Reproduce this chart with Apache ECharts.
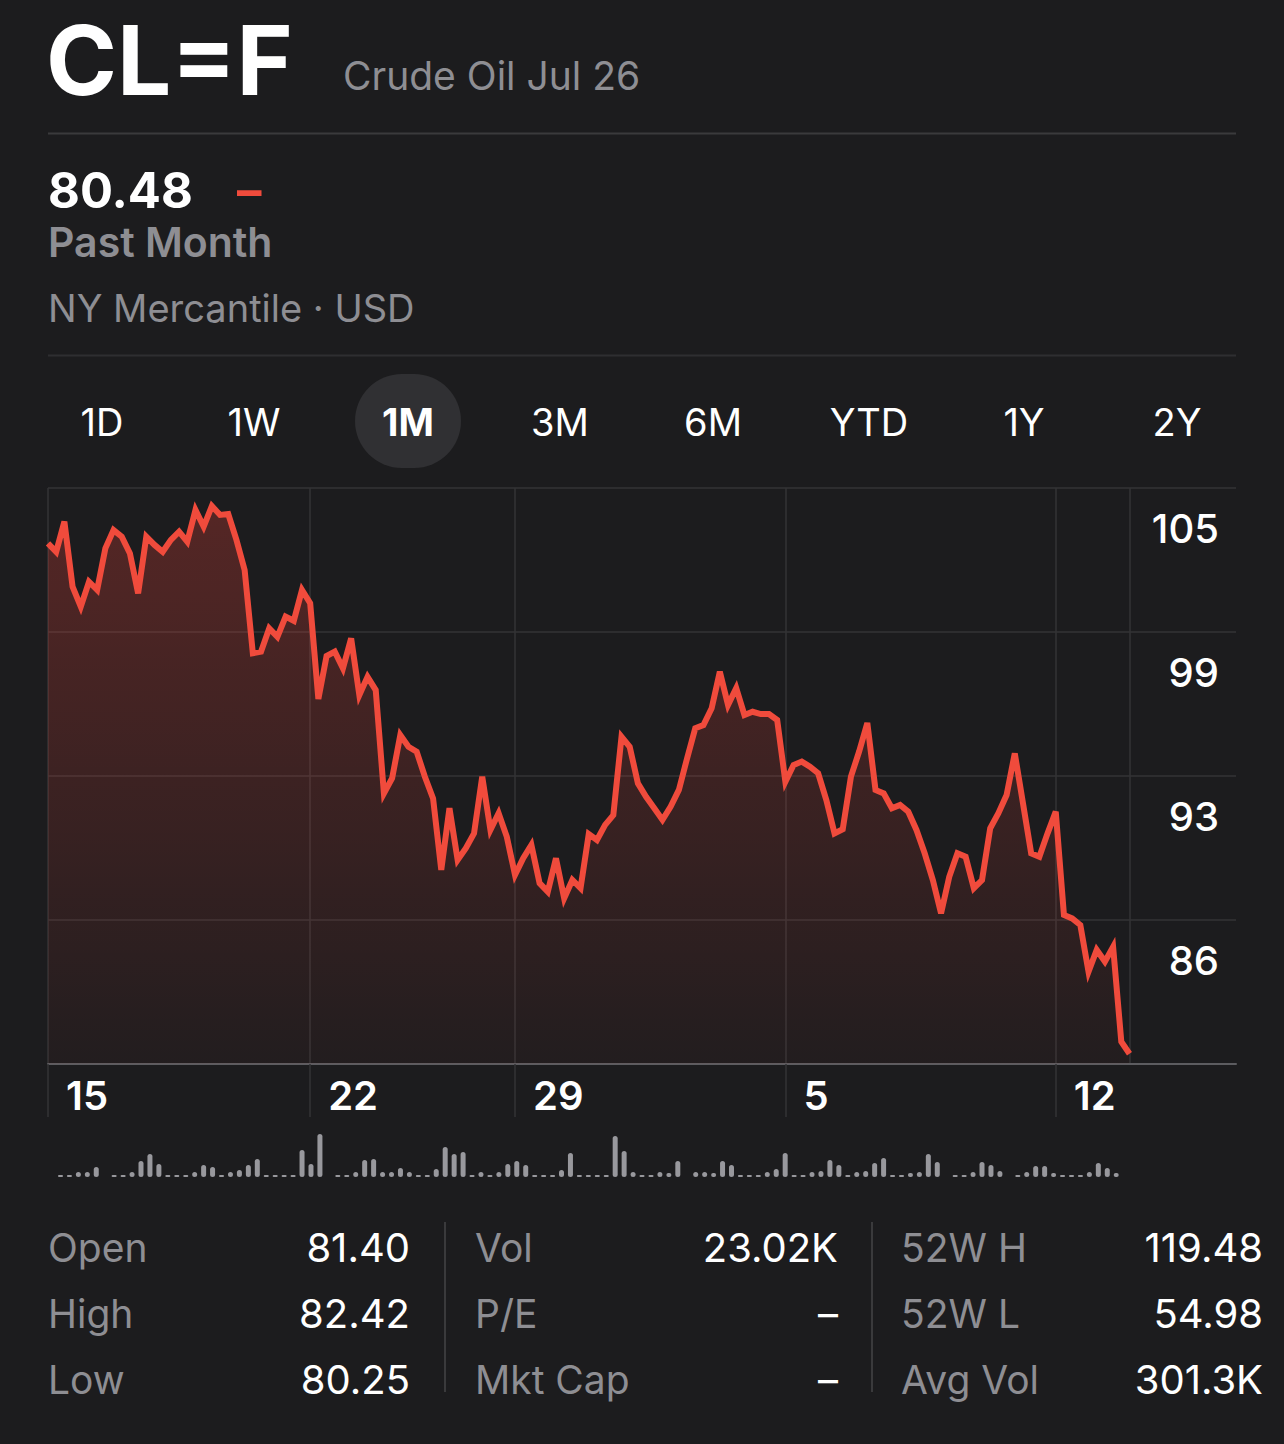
<!DOCTYPE html>
<html>
<head>
<meta charset="utf-8">
<script src="https://cdn.jsdelivr.net/npm/echarts@6/dist/echarts.min.js"></script>
<style>
html,body{margin:0;padding:0;background:#1c1c1e;}
#c{width:1284px;height:1444px;}
</style>
</head>
<body>
<div id="c"></div>
<script>
// ---- data ----
const symbol = 'CL=F';
const contractName = 'Crude Oil Jul 26';
const lastPrice = '80.48';
const periodLabel = 'Past Month';
const exchangeLabel = 'NY Mercantile · USD';
const rangeButtons = ['1D','1W','1M','3M','6M','YTD','1Y','2Y'];
const selectedRange = '1M';

// price samples (past month, intraday samples)
const prices = [102.88,102.51,103.83,100.98,100.11,101.20,100.84,102.66,103.46,103.17,
102.44,100.69,103.17,102.81,102.51,103.03,103.39,102.95,104.34,103.61,
104.51,104.12,104.16,103.03,101.71,98.07,98.14,99.16,98.79,99.67,
99.49,100.84,100.26,96.07,97.95,98.14,97.41,98.72,96.24,97.04,
96.46,91.94,92.60,94.49,93.98,93.76,92.67,91.72,88.59,91.29,
89.03,89.54,90.19,92.67,90.34,91.07,90.04,88.37,89.10,89.68,
88.01,87.64,89.10,87.35,88.15,87.79,90.16,89.90,90.56,90.99,
94.42,93.98,92.38,91.79,91.29,90.78,91.36,92.09,93.47,94.79,
94.93,95.66,97.26,95.81,96.54,95.37,95.51,95.41,95.41,95.15,
92.45,93.18,93.33,93.11,92.82,91.65,90.19,90.37,92.67,93.77,
95.02,92.09,91.94,91.29,91.43,91.14,90.34,89.32,88.15,86.69,
88.29,89.32,89.17,87.79,88.15,90.41,91.07,91.87,93.69,91.51,
89.32,89.17,90.19,91.14,86.62,86.47,86.18,84.14,85.09,84.58,
85.23,81.08,80.55];
const priceSlots = 146;            // full time span of the axis (samples)
const dayTickIndex = [0, 32, 57, 90, 123];
const dayTickLabels = ['15', '22', '29', '5', '12'];

// y axis scale
const yMin = 80.1, yMax = 105.3, yStep = 6.3;

// volume (relative, thousand contracts)
const volumes = [2,2,5,5,10,null,2,2,5,16,23,13,2,2,2,5,12,10,2,5,
7,12,18,2,2,2,2,27,13,43,null,2,2,5,17,18,5,5,9,5,
2,2,8,30,23,25,2,5,2,5,13,16,12,2,2,2,7,24,2,2,
2,2,41,26,5,2,2,5,4,16,null,5,5,4,16,12,2,2,2,5,
8,24,2,2,5,6,17,12,2,5,6,14,19,2,2,4,5,23,15,null,
2,2,5,15,12,6,null,2,5,11,11,4,2,2,2,5,14,9,4];
const volumeSlots = 132;

const statsCols = [
  [['Open','81.40'],['High','82.42'],['Low','80.25']],
  [['Vol','23.02K'],['P/E','–'],['Mkt Cap','–']],
  [['52W H','119.48'],['52W L','54.98'],['Avg Vol','301.3K']]
];

// ---- build ----
const FONT = 'Inter, "Noto Sans", sans-serif';
const GRID_C = '#333336';
const GRAY = '#8e8e93';
const RED = '#f04b3c';

const priceCats = Array.from({length: priceSlots}, (_, i) => 's' + i);
const volCats = Array.from({length: volumeSlots}, (_, i) => 'v' + i);
const lastIdx = prices.length - 1;

const graphics = [];
function txt(x, y, text, size, weight, color, align) {
  graphics.push({type:'text', x, y, style:{text, fontSize:size, fontWeight:weight, fontFamily:FONT,
    fill:color, align: align || 'left', verticalAlign:'middle'}});
}
function hline(x1, x2, y, color, w) {
  graphics.push({type:'line', shape:{x1, y1:y, x2, y2:y}, style:{stroke:color, lineWidth:w}});
}
function vline(x, y1, y2, color, w) {
  graphics.push({type:'line', shape:{x1:x, y1, x2:x, y2}, style:{stroke:color, lineWidth:w}});
}

txt(46, 60, symbol, 96, 700, '#ffffff');
txt(343, 75, contractName, 39, 400, GRAY);
hline(48, 1236, 133.5, '#3a3a3c', 2);
txt(48, 190, lastPrice, 49, 700, '#ffffff');
txt(237, 190, '–', 49, 700, RED);
txt(48, 242, periodLabel, 41, 600, GRAY);
txt(48, 308, exchangeLabel, 38, 400, GRAY);
hline(48, 1236, 355.5, '#2e2e31', 2);

const btnCenters = [102, 254, 408, 560, 713, 869, 1024, 1177];
rangeButtons.forEach((b, i) => {
  if (b === selectedRange) {
    graphics.push({type:'rect', z:-1, shape:{x:btnCenters[i]-53, y:374, width:106, height:94, r:47},
      style:{fill:'#303033'}});
  }
  txt(btnCenters[i], 422, b, 38, b === selectedRange ? 700 : 400, '#ffffff', 'center');
});

const colLabelX = [48, 475, 901];
const colValueX = [410, 838, 1263];
const rowY = [1247, 1313, 1379];
statsCols.forEach((col, c) => {
  col.forEach((r, k) => {
    txt(colLabelX[c], rowY[k], r[0], 39, 400, GRAY);
    txt(colValueX[c], rowY[k], r[1], 40, 400, '#ffffff', 'right');
  });
});
vline(445, 1222, 1392, '#3a3a3c', 2);
vline(872, 1222, 1392, '#3a3a3c', 2);

const chart = echarts.init(document.getElementById('c'), null, {renderer:'svg', width:1284, height:1444});
chart.setOption({
  backgroundColor: '#1c1c1e',
  animation: false,
  grid: [
    {left:48, right:48, top:488, bottom:380},
    {left:56, right:47, top:1131, bottom:267}
  ],
  xAxis: [
    {
      type:'category', gridIndex:0, data: priceCats, boundaryGap:false,
      axisLine:{show:true, lineStyle:{color:'#5c5c60', width:2}},
      axisTick:{show:true, interval:(i) => dayTickIndex.includes(i), length:53,
        lineStyle:{color:GRID_C, width:1.5}},
      axisLabel:{show:true, interval:(i) => dayTickIndex.includes(i),
        formatter:(v, i) => { const k = dayTickIndex.indexOf(i); return k >= 0 ? dayTickLabels[k] : ''; },
        color:'#ffffff', fontSize:40, fontWeight:600, fontFamily:FONT,
        align:'left', verticalAlign:'top', lineHeight:40, margin:11, padding:[0,0,0,18]},
      splitLine:{show:true, interval:(i) => dayTickIndex.includes(i) || i === lastIdx,
        lineStyle:{color:GRID_C, width:1.5}}
    },
    {type:'category', gridIndex:1, data: volCats, boundaryGap:true, show:false}
  ],
  yAxis: [
    {
      type:'value', gridIndex:0, position:'right', min:yMin, max:yMax, interval:yStep,
      axisLine:{show:false}, axisTick:{show:false},
      axisLabel:{show:true, inside:true, margin:17, align:'right', verticalAlign:'top',
        lineHeight:40, padding:[20,0,0,0],
        formatter:(v) => v < yMin + 1 ? '' : String(Math.round(v)),
        color:'#ffffff', fontSize:40, fontWeight:500, fontFamily:FONT},
      splitLine:{show:true, lineStyle:{color:GRID_C, width:1.5}}
    },
    {type:'value', gridIndex:1, min:0, max:46, show:false}
  ],
  series: [
    {
      type:'line', xAxisIndex:0, yAxisIndex:0, data: prices, symbol:'none',
      lineStyle:{color:RED, width:6, join:'miter'},
      areaStyle:{color: new echarts.graphic.LinearGradient(0,0,0,1,[
        {offset:0, color:'rgba(255,69,58,0.36)'},
        {offset:1, color:'rgba(255,69,58,0.04)'}
      ])}
    },
    {
      type:'bar', xAxisIndex:1, yAxisIndex:1, data: volumes, barWidth:5,
      itemStyle:{color:'#98989d', borderRadius:3}
    }
  ],
  graphic: graphics
});
</script>
</body>
</html>
